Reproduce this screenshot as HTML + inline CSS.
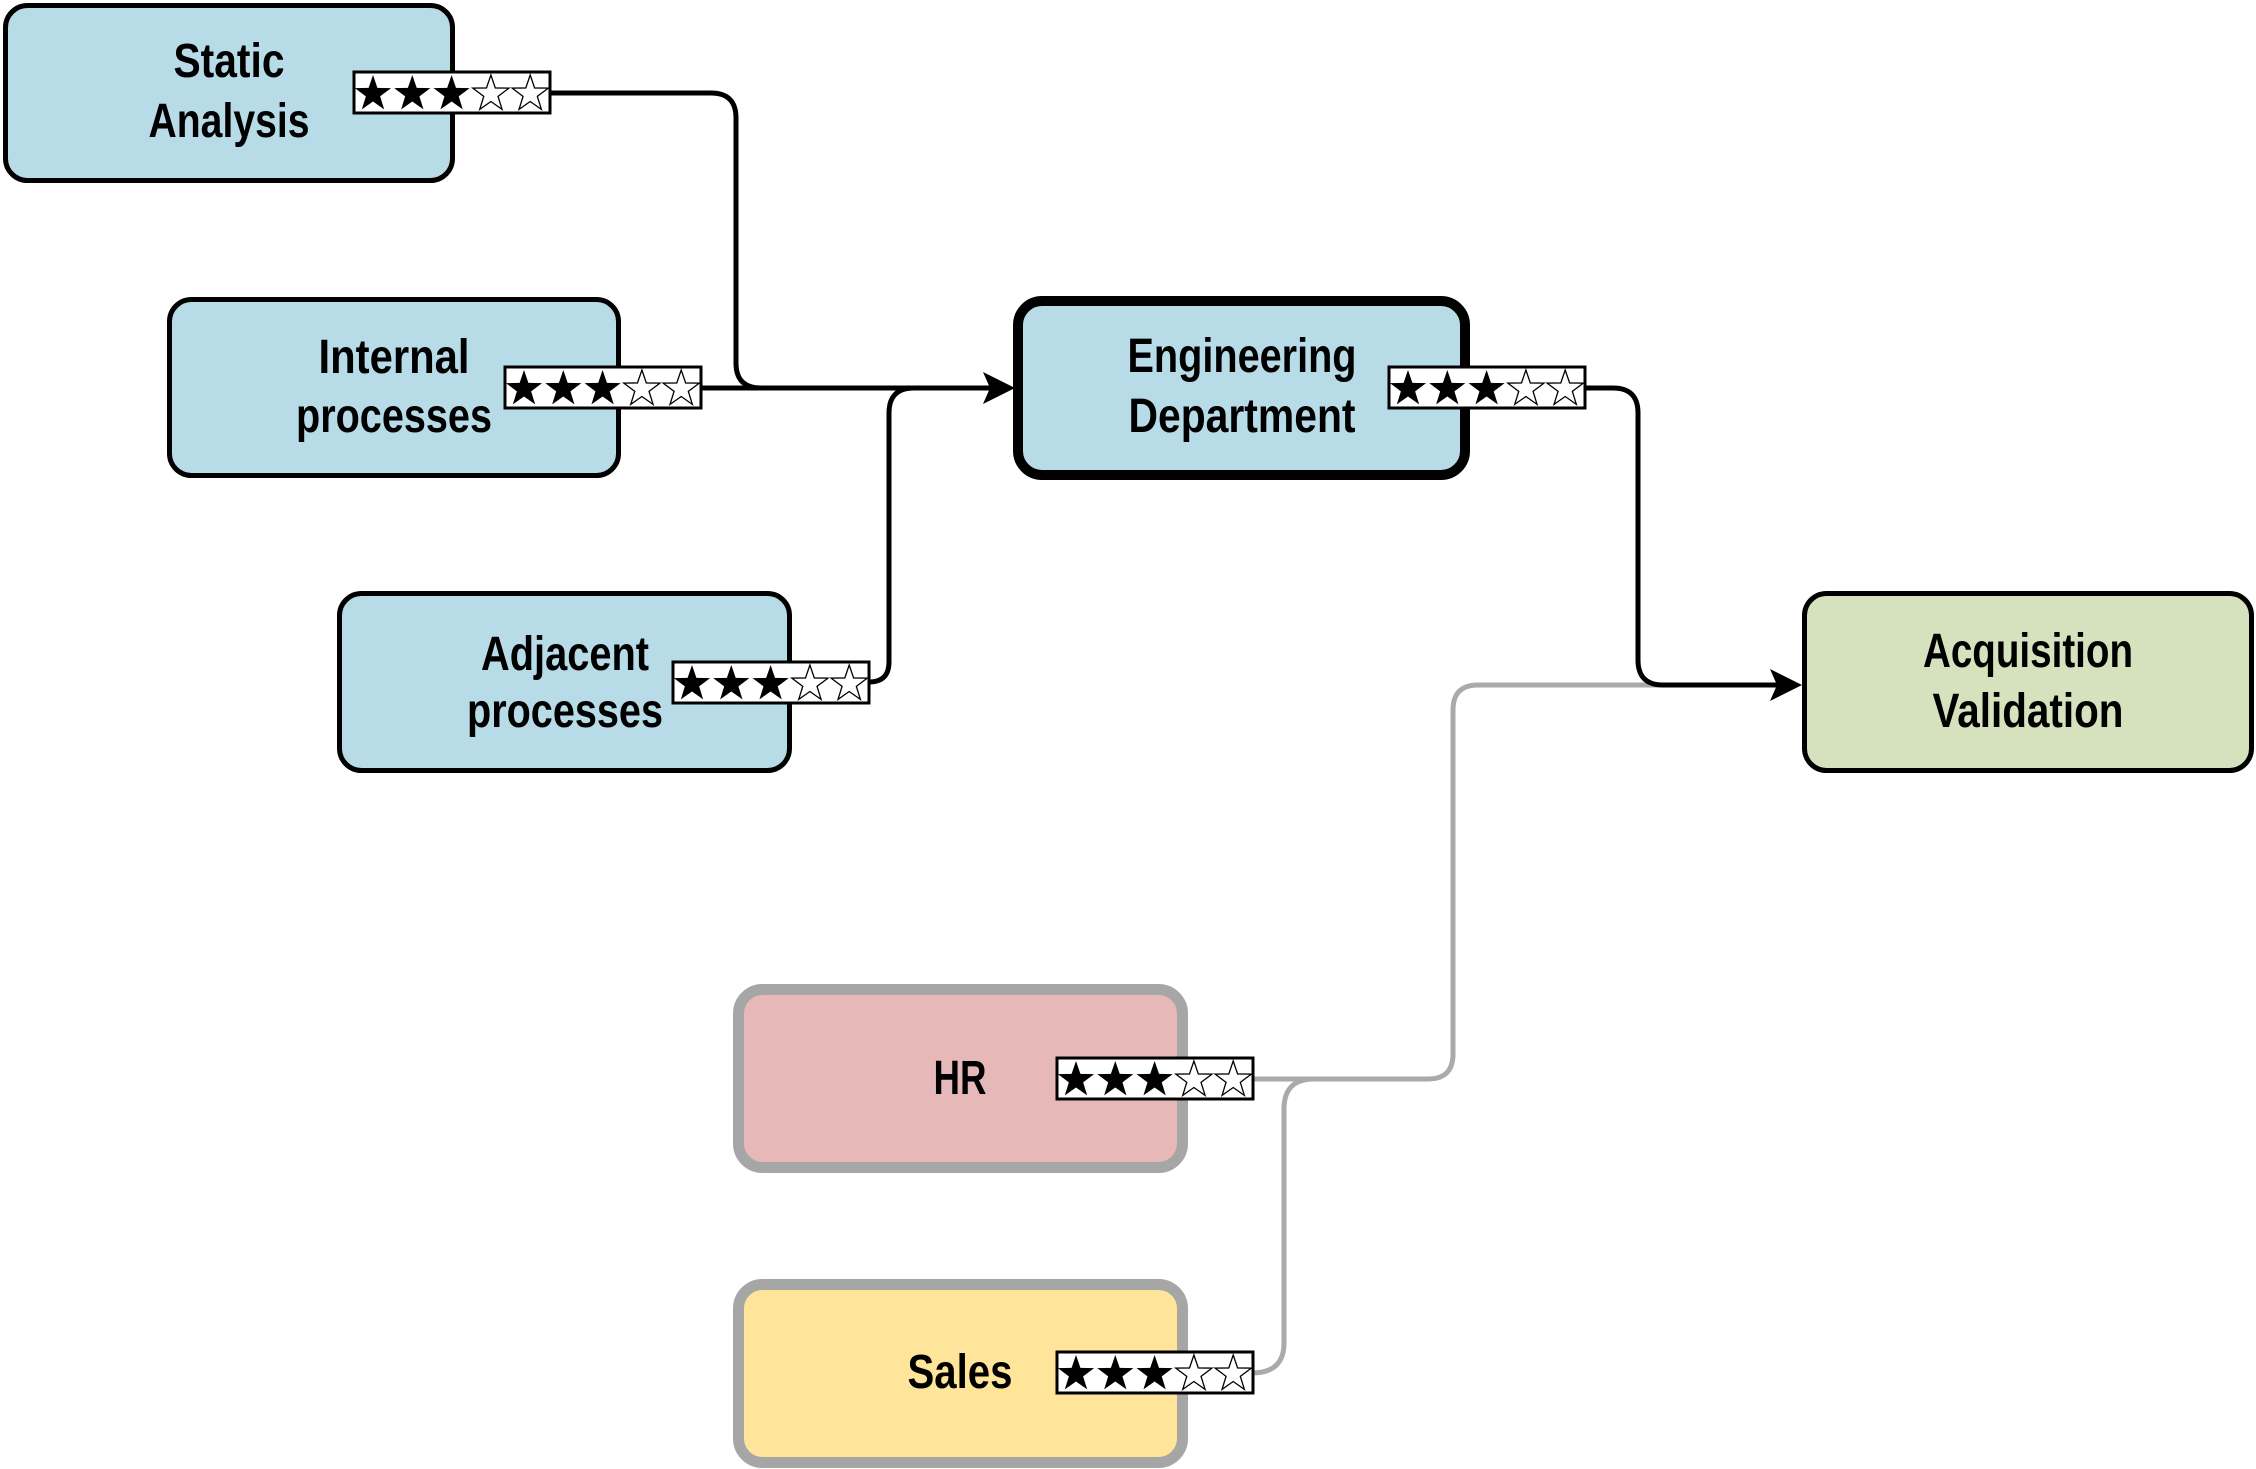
<!DOCTYPE html>
<html><head><meta charset="utf-8"><style>
html,body{margin:0;padding:0;background:#fff;}
svg{display:block;}
text{font-family:"Liberation Sans Narrow","Liberation Sans",sans-serif;font-weight:bold;font-size:48px;fill:#000;text-anchor:middle;}
</style></head><body>
<svg width="2256" height="1469" viewBox="0 0 2256 1469" xmlns="http://www.w3.org/2000/svg">
<defs>
<polygon id="st" points="0,-19 4.41,-6.07 18.07,-5.87 7.13,2.32 11.17,15.37 0,7.5 -11.17,15.37 -7.13,2.32 -18.07,-5.87 -4.41,-6.07"/>
<g id="badge">
<rect x="0" y="0" width="196" height="41" fill="#fff" stroke="#000" stroke-width="3"/>
<use href="#st" x="19" y="22" fill="#000"/>
<use href="#st" x="58.3" y="22" fill="#000"/>
<use href="#st" x="97.6" y="22" fill="#000"/>
<use href="#st" x="136.9" y="22" fill="#fff" stroke="#000" stroke-width="1.3"/>
<use href="#st" x="176.2" y="22" fill="#fff" stroke="#000" stroke-width="1.3"/>
</g>
</defs>

<g fill="none" stroke="#aaaaaa" stroke-width="5">
<path d="M1252,1079 H1428 Q1453,1079 1453,1054 V710 Q1453,685 1478,685 H1690"/>
<path d="M1252,1373 Q1284,1373 1284,1343 V1109 Q1284,1079 1314,1079 H1340"/>
</g>
<g fill="none" stroke="#000" stroke-width="5">
<path d="M550,93 H711 Q736,93 736,118 V363 Q736,388 761,388 H990"/>
<path d="M701,388 H990"/>
<path d="M869,682 Q889,682 889,662 V413 Q889,388 914,388 H990"/>
<path d="M1585,388 H1613 Q1638,388 1638,413 V660 Q1638,685 1663,685 H1778"/>
</g>
<polygon points="1015,388 983,372 990,388 983,404" fill="#000"/>
<polygon points="1802,685 1770,669 1777,685 1770,701" fill="#000"/>

<rect x="5.5" y="5.5" width="447" height="175" rx="22" fill="#b7dce8" stroke="#000" stroke-width="5"/>
<rect x="169.5" y="299.5" width="449" height="176" rx="22" fill="#b7dce8" stroke="#000" stroke-width="5"/>
<rect x="339.5" y="593.5" width="450" height="177" rx="22" fill="#b7dce8" stroke="#000" stroke-width="5"/>
<rect x="1018" y="301" width="447" height="174" rx="24" fill="#b7dce8" stroke="#000" stroke-width="10"/>
<rect x="1804.5" y="593.5" width="447" height="177" rx="22" fill="#d6e2be" stroke="#000" stroke-width="5"/>
<rect x="738.5" y="989.5" width="444" height="178" rx="24" fill="#e6b8b7" stroke="#a6a6a6" stroke-width="11"/>
<rect x="738.5" y="1284.5" width="444" height="178" rx="24" fill="#ffe59a" stroke="#a6a6a6" stroke-width="11"/>

<text x="229" y="77" textLength="111" lengthAdjust="spacingAndGlyphs">Static</text>
<text x="229" y="137" textLength="161" lengthAdjust="spacingAndGlyphs">Analysis</text>
<text x="394" y="373" textLength="151" lengthAdjust="spacingAndGlyphs">Internal</text>
<text x="394" y="432" textLength="196" lengthAdjust="spacingAndGlyphs">processes</text>
<text x="565" y="670" textLength="168" lengthAdjust="spacingAndGlyphs">Adjacent</text>
<text x="565" y="727" textLength="196" lengthAdjust="spacingAndGlyphs">processes</text>
<text x="1242" y="372" textLength="229" lengthAdjust="spacingAndGlyphs">Engineering</text>
<text x="1242" y="432" textLength="227" lengthAdjust="spacingAndGlyphs">Department</text>
<text x="2028" y="667" textLength="210" lengthAdjust="spacingAndGlyphs">Acquisition</text>
<text x="2028" y="727" textLength="191" lengthAdjust="spacingAndGlyphs">Validation</text>
<text x="960" y="1094" textLength="53" lengthAdjust="spacingAndGlyphs">HR</text>
<text x="960" y="1388" textLength="105" lengthAdjust="spacingAndGlyphs">Sales</text>

<use href="#badge" x="354" y="72"/>
<use href="#badge" x="505" y="367"/>
<use href="#badge" x="673" y="662"/>
<use href="#badge" x="1389" y="367"/>
<use href="#badge" x="1057" y="1058"/>
<use href="#badge" x="1057" y="1352"/>
</svg>
</body></html>
